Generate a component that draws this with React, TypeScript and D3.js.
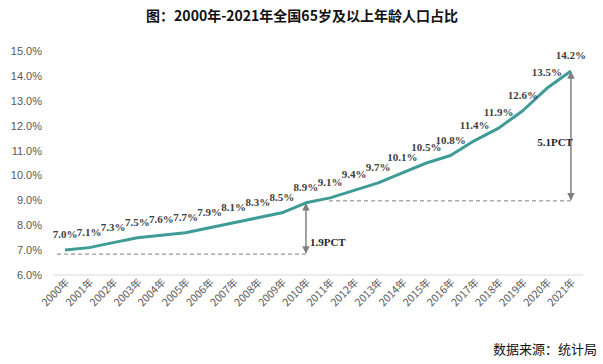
import React, { useEffect, useRef } from "react";
import * as d3 from "d3";

const years = [
  "2000年", "2001年", "2002年", "2003年", "2004年", "2005年", "2006年", "2007年",
  "2008年", "2009年", "2010年", "2011年", "2012年", "2013年", "2014年", "2015年",
  "2016年", "2017年", "2018年", "2019年", "2020年", "2021年",
];
const shares = [
  7.0, 7.1, 7.3, 7.5, 7.6, 7.7, 7.9, 8.1, 8.3, 8.5, 8.9, 9.1, 9.4, 9.7, 10.1, 10.5,
  10.8, 11.4, 11.9, 12.6, 13.5, 14.2,
];
const yTicks = [6, 7, 8, 9, 10, 11, 12, 13, 14, 15];
// [from year, to year, base value, top value, label]
const gaps: [number, number, number, number, string][] = [
  [0, 10, 7.0, 8.9, "1.9PCT"],
  [11, 21, 9.1, 14.2, "5.1PCT"],
];

const W = 603;
const H = 364;

function App() {
  const ref = useRef<SVGSVGElement>(null);

  useEffect(() => {
    const svg = d3.select(ref.current);
    svg.selectAll("*").remove();

    const left = 53, right = 583, top = 51, bottom = 275;

    const x = d3.scaleBand().domain(years).range([left, right]);
    const y = d3.scaleLinear().domain([6, 15]).range([bottom, top]);
    const cx = (i: number) => (x(years[i]) as number) + x.bandwidth() / 2;

    svg.append("text")
      .attr("x", 302)
      .attr("y", 21)
      .attr("text-anchor", "middle")
      .attr("font-family", "'Noto Sans CJK SC', sans-serif")
      .attr("font-weight", "bold")
      .attr("font-size", 14)
      .attr("fill", "#111")
      .text("图：2000年-2021年全国65岁及以上年龄人口占比");

    // y labels
    svg.append("g")
      .selectAll("text")
      .data(yTicks)
      .join("text")
      .attr("x", 42)
      .attr("y", d => y(d) + 4)
      .attr("text-anchor", "end")
      .attr("font-family", "'Liberation Sans', Arial, sans-serif")
      .attr("font-size", 11)
      .attr("fill", "#595959")
      .text(d => d.toFixed(1) + "%");

    // baseline axis
    svg.append("line")
      .attr("x1", left).attr("x2", right)
      .attr("y1", y(6)).attr("y2", y(6))
      .attr("stroke", "#d9d9d9").attr("stroke-width", 1);

    // x labels
    svg.append("g")
      .selectAll("text")
      .data(years)
      .join("text")
      .attr("transform", (d, i) => `translate(${cx(i) + 5},${y(6) + 8}) rotate(-45)`)
      .attr("text-anchor", "end")
      .attr("font-family", "'Noto Sans CJK SC', sans-serif")
      .attr("font-size", 10.5)
      .attr("fill", "#595959")
      .text(d => d);

    // annotations
    const defs = svg.append("defs");
    defs.append("marker")
      .attr("id", "arr")
      .attr("viewBox", "0 0 10 10")
      .attr("refX", 9).attr("refY", 5)
      .attr("markerWidth", 5).attr("markerHeight", 5)
      .attr("orient", "auto-start-reverse")
      .append("path")
      .attr("d", "M0,0 L10,5 L0,10 Z")
      .attr("fill", "#7f7f7f");

    const ann = svg.append("g");
    gaps.forEach(([a, b, lo, hi, label], k) => {
      const dashY = y(lo) + (k === 0 ? 4 : 3);
      const x0 = k === 0 ? cx(a) - 8 : cx(a) - 1;
      ann.append("line")
        .attr("x1", x0).attr("x2", cx(b))
        .attr("y1", dashY).attr("y2", dashY)
        .attr("stroke", "#7f7f7f")
        .attr("stroke-width", 1)
        .attr("stroke-dasharray", "4,3");
      ann.append("line")
        .attr("x1", cx(b)).attr("x2", cx(b))
        .attr("y1", dashY - 1).attr("y2", y(hi) + 1)
        .attr("stroke", "#7f7f7f")
        .attr("stroke-width", 1.5)
        .attr("marker-start", "url(#arr)")
        .attr("marker-end", "url(#arr)");
      ann.append("text")
        .attr("x", k === 0 ? cx(b) + 4 : cx(b) + 2)
        .attr("y", k === 0 ? dashY - 8 : y(11.2))
        .attr("text-anchor", k === 0 ? "start" : "end")
        .attr("font-family", "'Liberation Serif', serif")
        .attr("font-weight", "bold")
        .attr("font-size", 11)
        .attr("fill", "#262626")
        .text(label);
    });

    const line = d3.line<number>()
      .x((d, i) => cx(i))
      .y(d => y(d));

    svg.append("path")
      .datum(shares)
      .attr("d", line)
      .attr("fill", "none")
      .attr("stroke", "#3e9b95")
      .attr("stroke-width", 3)
      .attr("stroke-linejoin", "round");

    svg.append("g")
      .selectAll("text")
      .data(shares)
      .join("text")
      .attr("x", (d, i) => cx(i))
      .attr("y", d => y(d) - 12)
      .attr("text-anchor", "middle")
      .attr("font-family", "'Liberation Serif', serif")
      .attr("font-weight", "bold")
      .attr("font-size", 11)
      .attr("fill", "#404040")
      .text(d => d.toFixed(1) + "%");

    svg.append("text")
      .attr("x", 597)
      .attr("y", 354)
      .attr("text-anchor", "end")
      .attr("font-family", "'Noto Sans CJK SC', sans-serif")
      .attr("font-size", 13)
      .attr("fill", "#111")
      .text("数据来源：统计局");
  }, []);

  return (
    <svg
      ref={ref}
      width={W}
      height={H}
      style={{ position: "absolute", left: 0, top: 0, background: "#fff" }}
    />
  );
}

export default App;
